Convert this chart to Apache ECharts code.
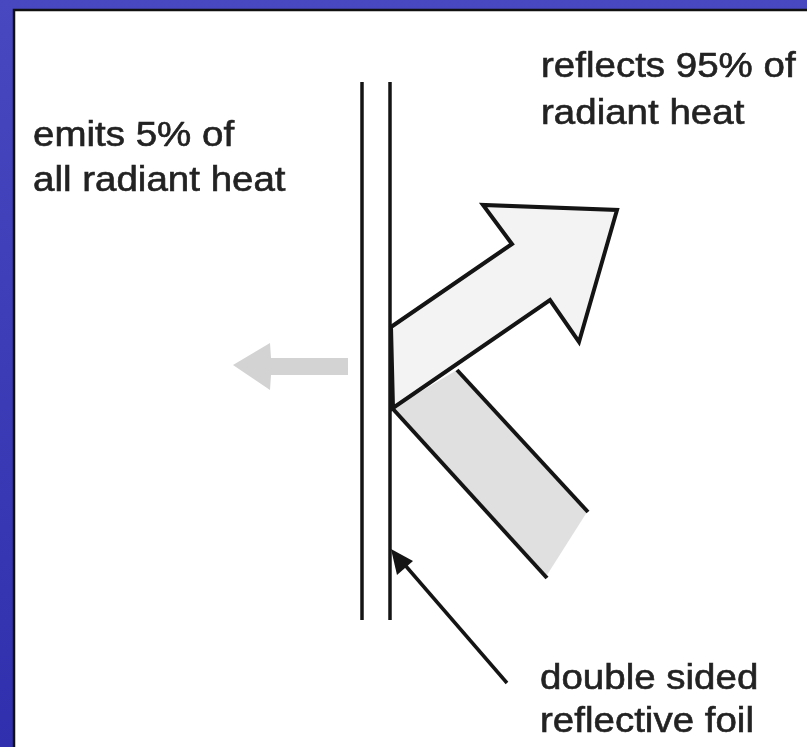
<!DOCTYPE html>
<html>
<head>
<meta charset="utf-8">
<script src="https://cdn.jsdelivr.net/npm/echarts@6/dist/echarts.min.js"></script>
<style>
html,body{margin:0;padding:0;background:#3a3ab6;}
#chart{width:807px;height:747px;}
</style>
</head>
<body>
<div id="chart"></div>
<script>
// Diagram geometry in image units (x right, y down), drawn through hidden value axes
const foilLines = [
  [[362, 82], [362, 620]],
  [[390, 82], [390, 620]]
];
const reflectedArrow = [[391,327],[512,244],[483,205],[617,210],[579,342],[550,300],[393,408]];
const incomingBeamFill = [[393,408],[457,370],[587,512],[547,575]];
const incomingBeamEdges = [
  [[457,370],[588,512]],
  [[393,409],[547,578]]
];
const emittedArrow = [[348,358],[271,358],[270,343],[233,365],[270,390],[271,375],[348,375]];
const pointerLine = [[507,683],[398,557]];
const pointerHead = [[391,549],[413,561],[397,575]];
const labelTexts = ['reflects 95% of','radiant heat','emits 5% of','all radiant heat','double sided','reflective foil'];
const labelAnchors = [[541,78],[541,125],[33,147],[33,192],[540,690],[540,733]];

const STROKE = '#141414';
const FONT = '35px "Liberation Sans", Arial, Helvetica, sans-serif';

function polySeries(name, shapes, fill, stroke, lw) {
  return {
    type: 'custom', name: name, coordinateSystem: 'cartesian2d',
    data: shapes.map((s, i) => [i]),
    silent: true,
    renderItem: function (params, api) {
      const pts = shapes[params.dataIndex].map(p => api.coord(p));
      return {
        type: 'polygon',
        shape: { points: pts },
        style: { fill: fill, stroke: stroke || null, lineWidth: lw || 0, lineJoin: 'miter' }
      };
    }
  };
}
function lineSeries(name, lines, lw) {
  return {
    type: 'custom', name: name, coordinateSystem: 'cartesian2d',
    data: lines.map((s, i) => [i]),
    silent: true,
    renderItem: function (params, api) {
      const pts = lines[params.dataIndex].map(p => api.coord(p));
      return {
        type: 'polyline',
        shape: { points: pts },
        style: { fill: null, stroke: STROKE, lineWidth: lw, lineCap: 'butt' }
      };
    }
  };
}

const chart = echarts.init(document.getElementById('chart'), null, { renderer: 'canvas' });
chart.setOption({
  animation: false,
  backgroundColor: {
    type: 'linear', x: 0, y: 0, x2: 0, y2: 1,
    colorStops: [{ offset: 0, color: '#4848c0' }, { offset: 1, color: '#3030ae' }]
  },
  graphic: [
    { type: 'rect', z: -10, shape: { x: 14, y: 10, width: 800, height: 745 },
      style: { fill: '#ffffff', stroke: '#111111', lineWidth: 2.5 } }
  ],
  grid: { left: 0, right: 0, top: 0, bottom: 0 },
  xAxis: { type: 'value', min: 0, max: 807, show: false },
  yAxis: { type: 'value', min: 0, max: 747, inverse: true, show: false },
  series: [
    polySeries('emitted', [emittedArrow], '#d3d3d3'),
    polySeries('incomingFill', [incomingBeamFill], '#e0e0e0'),
    lineSeries('incomingEdges', incomingBeamEdges, 4),
    polySeries('reflected', [reflectedArrow], '#f3f3f3', STROKE, 4),
    lineSeries('foil', foilLines, 3.5),
    lineSeries('pointer', [pointerLine], 3.5),
    polySeries('pointerHead', [pointerHead], STROKE),
    {
      type: 'custom', name: 'labels', coordinateSystem: 'cartesian2d',
      data: labelAnchors.map((p, i) => [p[0], p[1], i]),
      silent: true,
      renderItem: function (params, api) {
        const c = api.coord([api.value(0), api.value(1)]);
        return {
          type: 'text', x: c[0], y: c[1] + 7, scaleX: 1.1,
          style: { text: labelTexts[params.dataIndex], font: FONT, fill: '#222222',
                   stroke: '#222222', lineWidth: 0.6,
                   align: 'left', verticalAlign: 'bottom' }
        };
      }
    }
  ]
});
</script>
</body>
</html>
